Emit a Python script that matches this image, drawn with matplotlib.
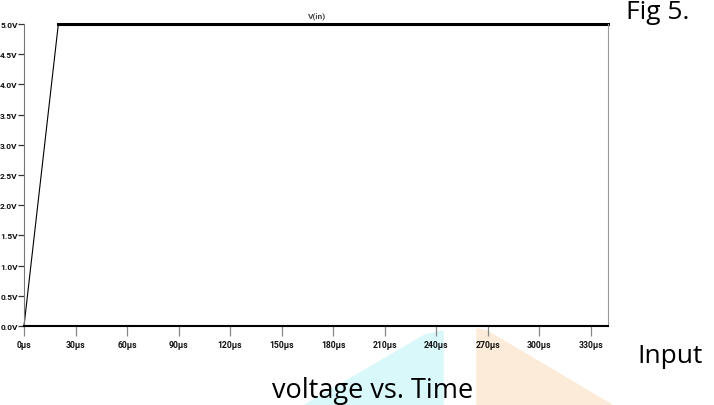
import numpy as np
import matplotlib.pyplot as plt
from matplotlib.patches import Polygon

# Data (V(in) transient)
time_us = [0, 20, 340]
v_in = [0.0, 5.0, 5.0]
x_ticks = list(range(0, 331, 30))
x_labels = [f"{t}µs" for t in x_ticks]
y_ticks = [i * 0.5 for i in range(11)]
y_labels = [f"{v:.1f}V" for v in y_ticks]

narrow = ['Roboto', 'DejaVu Sans']
W, H = 714, 406

fig = plt.figure(figsize=(7.14, 4.06), dpi=100)

# faint watermark shapes behind everything
fig.patches.append(Polygon([[425 / W, 1 - 336 / H], [443 / W, 1 - 332 / H],
                            [443 / W, 0], [305 / W, 0]], closed=True,
                           transform=fig.transFigure, color='#d9f8fa', zorder=-5))
fig.patches.append(Polygon([[477 / W, 1 - 330 / H], [487 / W, 1 - 332 / H],
                            [612 / W, 0], [477 / W, 0]],
                           closed=True, transform=fig.transFigure, color='#fdebd9', zorder=-5))

ax = fig.add_axes([24 / W, 1 - 327 / H, (608 - 24) / W, (327 - 25) / H])
ax.patch.set_alpha(0)
ax.plot(time_us, v_in, color='black', lw=0.8, clip_on=False)
ax.plot(time_us[1:], v_in[1:], color='black', lw=2.2, clip_on=False)
ax.set_xlim(0, 340)
ax.set_ylim(0, 5)

ax.set_xticks(x_ticks)
ax.set_xticklabels(x_labels, fontsize=6.2, fontweight='bold', family=narrow, color='#111111')
ax.set_yticks(y_ticks)
ax.set_yticklabels(y_labels, fontsize=6, fontweight='bold', family=narrow, color='#111111')
ax.tick_params(axis='x', length=7, width=0.9, color='#888888', pad=3)
ax.tick_params(axis='y', length=4, width=0.9, color='#333333', pad=0.5)

ax.spines['top'].set_visible(False)
ax.spines['left'].set_color('#777777')
ax.spines['left'].set_linewidth(0.8)
ax.spines['right'].set_color('#999999')
ax.spines['right'].set_linewidth(0.8)
ax.spines['bottom'].set_color('black')
ax.spines['bottom'].set_linewidth(1.5)

ax.set_title('V(in)', fontsize=6, fontweight='bold', family=narrow,
             color='#444444', pad=5, x=(317 - 24) / (608 - 24))

fig.text(626 / W, 1 - 19 / H, 'Fig 5.', fontsize=19, family='Open Sans', va='baseline')
fig.text(637 / W, 1 - 363 / H, 'Input', fontsize=19, family='Open Sans', va='baseline')
fig.text(272 / W, 1 - 398 / H, 'voltage vs. Time', fontsize=19.5, family='Open Sans', va='baseline')

fig.savefig('out.png', dpi=100)
